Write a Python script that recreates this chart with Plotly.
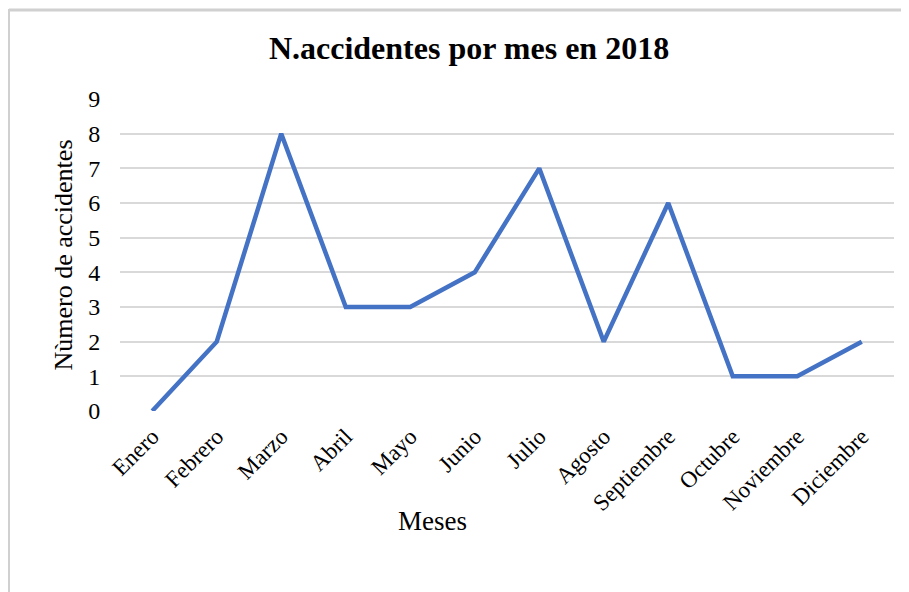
import plotly.graph_objects as go

meses = ["Enero", "Febrero", "Marzo", "Abril", "Mayo", "Junio", "Julio",
         "Agosto", "Septiembre", "Octubre", "Noviembre", "Diciembre"]
accidentes = [0, 2, 8, 3, 3, 4, 7, 2, 6, 1, 1, 2]
y_ticks = list(range(0, 10))

OFF = 8  # page body margin
W, H = 909 - OFF, 592 - OFF
# plot area in page pixels
PX0, PX1, PY0, PY1 = 120, 894, 99, 411
L, R = PX0 - OFF, W - (PX1 - OFF)
T, B = PY0 - OFF, H - (PY1 - OFF)
pw, ph = W - L - R, H - T - B

def px_x(x):
    return (x - OFF - L) / pw

def px_y(y):
    return (H - B - (y - OFF)) / ph

FONT = "Liberation Serif, Times New Roman, serif"

fig = go.Figure()
fig.add_trace(go.Scatter(
    x=meses, y=accidentes, mode="lines",
    line=dict(color="#4472C4", width=4.5),
    hoverinfo="x+y",
))

fig.update_layout(
    width=W, height=H,
    margin=dict(l=L, r=R, t=T, b=B),
    paper_bgcolor="white", plot_bgcolor="white",
    showlegend=False,
    font=dict(family=FONT, color="#000000", size=22),
    title=dict(text="<b>N.accidentes por mes en 2018</b>",
               x=(469 - OFF) / W, xanchor="center",
               y=1 - (48 - OFF) / H, yanchor="middle",
               font=dict(family=FONT, size=32, color="#000000")),
    xaxis=dict(
        type="category", range=[-0.5, 11.5],
        showgrid=False, showline=False, zeroline=False,
        tickangle=-45, tickfont=dict(size=23),
        ticks="outside", ticklen=2, tickcolor="rgba(0,0,0,0)",
    ),
    yaxis=dict(
        range=[0, 9], tickvals=y_ticks,
        showgrid=True, gridcolor="#D9D9D9", gridwidth=1.5,
        zeroline=False, showline=False,
        tickfont=dict(size=24),
        ticks="outside", ticklen=14, tickcolor="rgba(0,0,0,0)",
        title=dict(text="Nùmero de accidentes", font=dict(size=26), standoff=8),
    ),
    annotations=[
        dict(text="Meses", xref="paper", yref="paper",
             x=px_x(432), y=px_y(521), xanchor="center", yanchor="middle",
             showarrow=False, font=dict(family=FONT, size=27, color="#000000")),
    ],
    shapes=[
        dict(type="rect", xref="paper", yref="paper",
             x0=px_x(OFF + 1), x1=px_x(920), y0=px_y(600), y1=px_y(OFF + 1),
             line=dict(width=0), fillcolor="rgba(0,0,0,0)", layer="below"),
        dict(type="line", xref="paper", yref="paper",
             x0=px_x(OFF + 1), x1=px_x(909), y0=px_y(OFF + 2), y1=px_y(OFF + 2),
             line=dict(color="#D0D0D0", width=3), layer="above"),
        dict(type="line", xref="paper", yref="paper",
             x0=px_x(OFF + 1), x1=px_x(OFF + 1), y0=px_y(OFF + 1), y1=px_y(600),
             line=dict(color="#D0D0D0", width=2), layer="above"),
    ],
)

fig.write_html("out.html")
